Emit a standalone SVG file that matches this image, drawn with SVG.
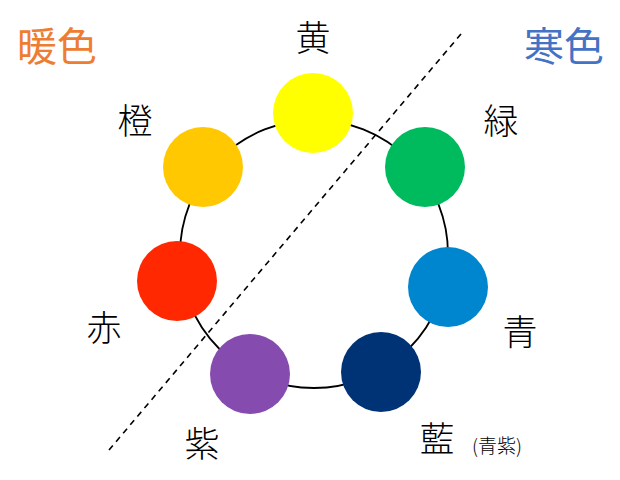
<svg xmlns="http://www.w3.org/2000/svg" width="620" height="480" viewBox="0 0 620 480">
<style>
text{font-family:"Noto Sans CJK JP","Noto Sans CJK SC",sans-serif;text-anchor:middle;fill:#000}
.lbl{font-size:35px;font-weight:300}
.ttl{font-size:40px}
</style>
<rect width="620" height="480" fill="#fff"/>
<g id="connectors">
<circle id="ring" cx="314" cy="254" r="134" fill="none" stroke="#000" stroke-width="1.8"/>
<line id="divider" x1="461" y1="34" x2="109" y2="450" stroke="#000" stroke-width="1.6" stroke-dasharray="6,5"/>
</g>
<g id="title-warm"><text class="ttl" x="57" y="61" style="fill:#ED7D31">暖色</text></g>
<g id="title-cool"><text class="ttl" x="564" y="61" style="fill:#4472C4">寒色</text></g>
<g id="yellow"><circle cx="313" cy="113" r="40" fill="#FFFF00"/><text class="lbl" x="313" y="51">黄</text></g>
<g id="orange"><circle cx="203" cy="167" r="40" fill="#FFC800"/><text class="lbl" x="135" y="134">橙</text></g>
<g id="green"><circle cx="425" cy="167" r="40" fill="#00BA5E"/><text class="lbl" x="501" y="134">緑</text></g>
<g id="red"><circle cx="177" cy="281" r="40" fill="#FF2800"/><text class="lbl" x="104" y="341">赤</text></g>
<g id="blue"><circle cx="448" cy="287" r="40" fill="#0086CE"/><text class="lbl" x="520" y="345">青</text></g>
<g id="purple"><circle cx="250" cy="374" r="40" fill="#864BAF"/><text class="lbl" x="202" y="457">紫</text></g>
<g id="navy"><circle cx="381" cy="372" r="40" fill="#003276"/><text class="lbl" x="437" y="452">藍</text><text x="497" y="453" style="font-size:19px;font-weight:300">(青紫)</text></g>
</svg>
